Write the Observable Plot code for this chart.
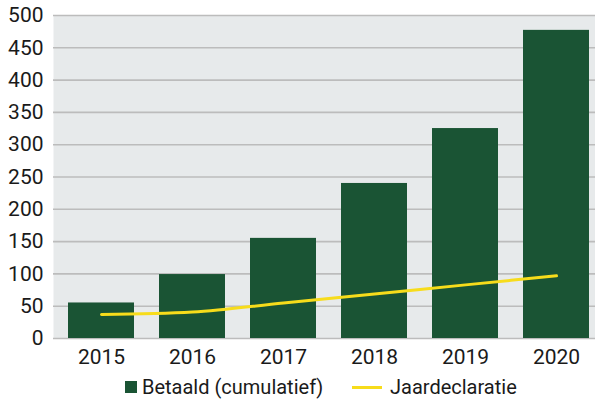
<!DOCTYPE html>
<html>
<head>
<meta charset="utf-8">
<script src="https://cdn.jsdelivr.net/npm/d3@7"></script>
<script src="https://cdn.jsdelivr.net/npm/@observablehq/plot@0.6"></script>
<style>
  body { margin: 0; background: #fff; font-family: Roboto, "DejaVu Sans", sans-serif; }
  #legend { position: relative; height: 26px; font-size: 20px; color: #1a1a1a; }
  .item { position: absolute; top: 0px; display: flex; align-items: center; }
  .sw { width: 12px; height: 12px; background: #1a5434; margin-right: 5px; }
  .ln { width: 30px; height: 3px; background: #f7dc1b; margin-right: 8px; }
</style>
</head>
<body>
<div id="chart"></div>
<div id="legend">
  <div class="item" style="left:125px"><span class="sw"></span><span>Betaald (cumulatief)</span></div>
  <div class="item" style="left:352px"><span class="ln"></span><span>Jaardeclaratie</span></div>
</div>
<script>
const years = ["2015", "2016", "2017", "2018", "2019", "2020"];
const betaald = [55, 99, 155, 240, 325, 477];
const jaardeclaratie = [37, 41, 55, 69, 83, 97];
const yTicks = [0, 50, 100, 150, 200, 250, 300, 350, 400, 450, 500];

const data = years.map((y, i) => ({year: y, betaald: betaald[i], jaar: jaardeclaratie[i]}));

const chart = Plot.plot({
  width: 595,
  height: 375,
  marginTop: 15,
  marginBottom: 37,
  marginLeft: 53,
  marginRight: 0,
  style: {fontFamily: "Roboto, 'DejaVu Sans', sans-serif", fontSize: "21px", color: "#1a1a1a", background: "#fff"},
  x: {domain: years, range: [66, 590], paddingInner: 0.28, paddingOuter: 0, label: null, tickSize: 0, tickPadding: 11},
  y: {domain: [0, 500], ticks: yTicks, label: null, tickSize: 0, tickPadding: 10},
  marks: [
    Plot.frame({fill: "#e7eaeb", stroke: null}),
    Plot.ruleY(yTicks, {stroke: "#bcbcbc", strokeWidth: 1.6}),
    Plot.barY(data, {x: "year", y: "betaald", fill: "#1a5434"}),
    Plot.line(data, {x: "year", y: "jaar", stroke: "#f7dc1b", strokeWidth: 3, curve: "monotone-x"})
  ]
});
document.getElementById("chart").appendChild(chart);
</script>
</body>
</html>
